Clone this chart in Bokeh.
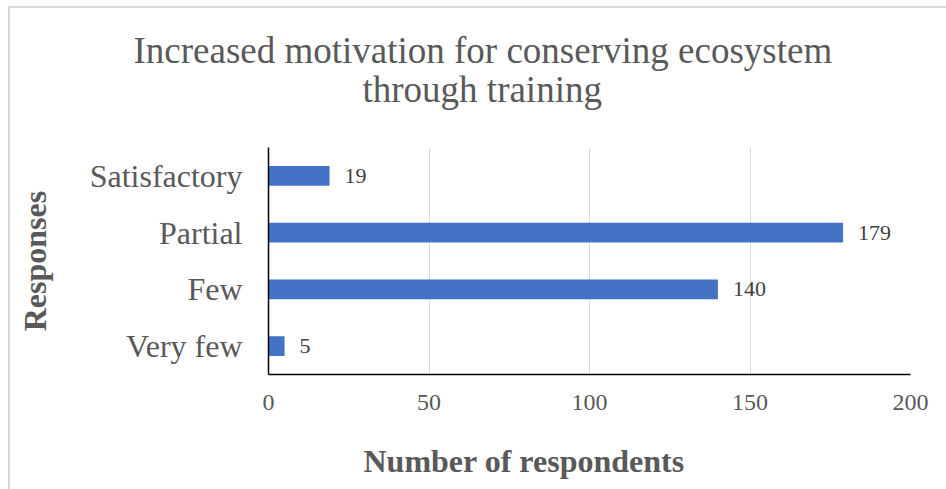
from bokeh.plotting import figure
from bokeh.models import ColumnDataSource, Title, FactorRange, Range1d, InlineStyleSheet, FixedTicker
from bokeh.core.properties import value
from bokeh.embed import file_html
from bokeh.resources import INLINE

categories = ["Very few", "Few", "Partial", "Satisfactory"]
counts = [5, 140, 179, 19]
x_ticks = [0, 50, 100, 150, 200]
title_lines = ["Increased motivation for conserving ecosystem", "through training"]
x_title = "Number of respondents"
y_title = "Responses"

FONT = "Liberation Serif"
GRAY = "#595959"

src = ColumnDataSource(dict(cat=categories, count=counts, label=[str(c) for c in counts]))

p = figure(width=946, height=489,
           y_range=FactorRange(*categories, range_padding=0),
           x_range=Range1d(0, 200),
           output_backend="svg", toolbar_location=None, title=None,
           min_border_left=268, min_border_right=36,
           min_border_top=147, min_border_bottom=115)

p.hbar(y="cat", left=0, right="count", height=0.35, color="#4472C4", line_color=None, source=src)
p.text(x="count", y="cat", text="label", x_offset=15, text_baseline="middle",
       text_font=value(FONT), text_font_size="22px", text_color="#404040", source=src)

p.outline_line_color = None
p.background_fill_color = "white"
p.border_fill_color = "white"

p.ygrid.grid_line_color = None
p.xgrid.grid_line_color = "#d9d9d9"
p.xgrid.grid_line_width = 1
p.xgrid.ticker = FixedTicker(ticks=x_ticks)

p.xaxis.ticker = FixedTicker(ticks=x_ticks)
for ax in (p.xaxis[0], p.yaxis[0]):
    ax.axis_line_color = "black"
    ax.axis_line_width = 1.5
    ax.major_tick_line_color = None
    ax.minor_tick_line_color = None
    ax.major_tick_in = 0
    ax.major_tick_out = 0
    ax.major_label_text_font = FONT
    ax.major_label_text_color = GRAY

p.xaxis.major_label_text_font_size = "24px"
p.xaxis.major_label_standoff = 20
p.yaxis.major_label_text_font_size = "32px"
p.yaxis.major_label_standoff = 26
p.yaxis.axis_label = y_title
p.yaxis.axis_label_text_font = FONT
p.yaxis.axis_label_text_font_style = "bold"
p.yaxis.axis_label_text_font_size = "32px"
p.yaxis.axis_label_text_color = GRAY
p.yaxis.axis_label_standoff = 34

# two-line chart title (second line nearest the plot)
t2 = Title(text=title_lines[1], align="left", offset=94, text_font=FONT,
           text_font_size="37px", text_font_style="normal", text_color=GRAY, standoff=76)
t1 = Title(text=title_lines[0], align="left", offset=-135, text_font=FONT,
           text_font_size="37px", text_font_style="normal", text_color=GRAY, standoff=-85)
p.add_layout(t2, "above")
p.add_layout(t1, "above")

# small blank spacer then the x-axis title
spacer = Title(text=" ", text_font_size="1px", standoff=24, text_color="white")
p.add_layout(spacer, "below")
tx = Title(text=x_title, align="left", offset=95, text_font=FONT,
           text_font_size="32px", text_font_style="bold", text_color=GRAY, standoff=2)
p.add_layout(tx, "below")

p.stylesheets = [InlineStyleSheet(css=":host::after { content: ''; position: absolute; left: 8px; top: 6px; right: 0; bottom: 0; border-left: 2px solid #d9d9d9; border-top: 2px solid #d9d9d9; pointer-events: none; }")]

open("out.html", "w").write(file_html(p, INLINE))
